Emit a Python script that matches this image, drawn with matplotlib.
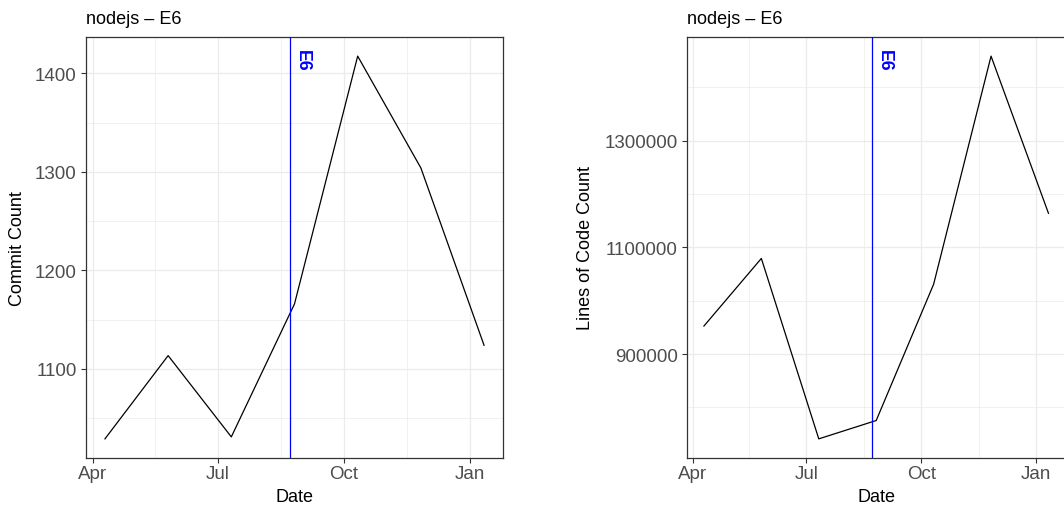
import numpy as np
import pandas as pd
import matplotlib
matplotlib.use("Agg")
import matplotlib.pyplot as plt
import matplotlib.dates as mdates

plt.rcParams["font.family"] = ["Liberation Sans", "DejaVu Sans"]

# Monthly-ish snapshots of the nodejs repository
dates = pd.to_datetime([
    "2017-04-10", "2017-05-26", "2017-07-11", "2017-08-26",
    "2017-10-11", "2017-11-26", "2018-01-11",
])
commit_counts = [1029, 1113.5, 1031, 1166, 1417.5, 1304, 1124]
loc_counts = [952600, 1079300, 741100, 775500, 1030900, 1458500, 1163900]

event_date = pd.Timestamp("2017-08-23")
event_label = "E6"
title = "nodejs \u2013 E6"

major_dates = pd.to_datetime(["2017-04-01", "2017-07-01", "2017-10-01", "2018-01-01"])
major_labels = ["Apr", "Jul", "Oct", "Jan"]

commit_major = [1100, 1200, 1300, 1400]
commit_minor = [1050, 1150, 1250, 1350]
loc_major = [900000, 1100000, 1300000]
loc_minor = [800000, 1000000, 1200000, 1400000]

GRID = "#EBEBEB"
DARK = "#333333"
TICKTXT = "#4D4D4D"

W, H = 1064, 506
fig = plt.figure(figsize=(W / 100, H / 100), dpi=100)


def panel(left_px, width_px, y, ylab, ylab_x, ymajor, yminor):
    top_px, bottom_px = 38, 459
    ax = fig.add_axes([left_px / W, 1 - bottom_px / H, width_px / W, (bottom_px - top_px) / H])

    xnum = mdates.date2num(dates)
    span = xnum.max() - xnum.min()
    ax.set_xlim(xnum.min() - 0.05 * span, xnum.max() + 0.05 * span)
    yspan = max(y) - min(y)
    ax.set_ylim(min(y) - 0.05 * yspan, max(y) + 0.05 * yspan)

    major_num = mdates.date2num(major_dates)
    minor_num = (major_num[:-1] + major_num[1:]) / 2
    ax.set_xticks(major_num)
    ax.set_xticklabels(major_labels)
    ax.set_xticks(minor_num, minor=True)
    ax.set_yticks(ymajor)
    ax.set_yticklabels([str(v) for v in ymajor])
    ax.set_yticks(yminor, minor=True)

    ax.grid(which="major", color=GRID, lw=0.9, zorder=0)
    ax.grid(which="minor", color=GRID, lw=0.5, zorder=0)
    ax.set_axisbelow(True)

    ax.tick_params(which="major", length=3.6, width=0.8, color=DARK,
                   labelsize=13.5, labelcolor=TICKTXT)
    ax.tick_params(axis="x", which="major", pad=1.5)
    ax.tick_params(axis="y", which="major", pad=3)
    ax.tick_params(which="minor", length=0)
    for s in ax.spines.values():
        s.set_color(DARK)
        s.set_linewidth(0.9)

    ax.plot(xnum, y, color="black", lw=0.9, zorder=3)
    ev = mdates.date2num(event_date)
    ax.axvline(ev, color="blue", lw=0.9, zorder=4)
    ax.annotate(event_label, xy=(ev, 1), xycoords=("data", "axes fraction"),
                xytext=(12, -12), textcoords="offset pixels",
                rotation=270, ha="center", va="top", color="blue",
                fontsize=12.8, fontweight="bold")

    ax.set_xlabel("Date", fontsize=13, color="black", va="center")
    ax.xaxis.set_label_coords(0.5, -39 / (bottom_px - top_px))
    ax.set_ylabel(ylab, fontsize=13, color="black", va="center")
    ax.yaxis.set_label_coords(ylab_x, 0.5)

    fig.text(left_px / W, 1 - 19 / H, title, fontsize=13, ha="left", va="center")
    return ax


panel(86, 417, commit_counts, "Commit Count", (17.5 - 86) / 417, commit_major, commit_minor)
panel(686.7, 379, loc_counts, "Lines of Code Count", (585 - 686.7) / 379, loc_major, loc_minor)

fig.savefig("out.png", dpi=100)
